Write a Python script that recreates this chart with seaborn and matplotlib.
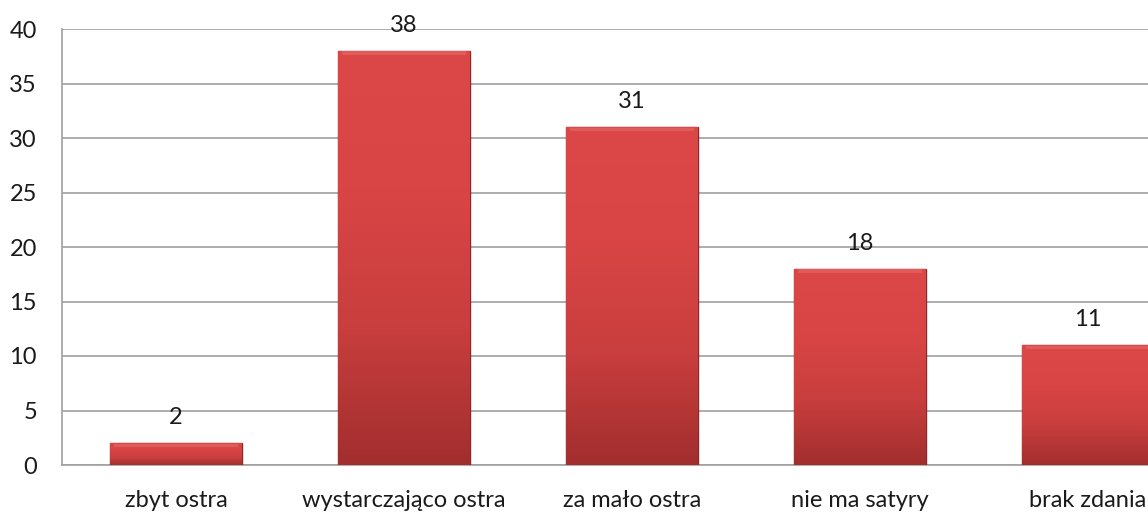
import numpy as np
import pandas as pd
import seaborn as sns
import matplotlib.pyplot as plt
from matplotlib.colors import LinearSegmentedColormap

categories = ['zbyt ostra', 'wystarczająco ostra', 'za mało ostra', 'nie ma satyry', 'brak zdania']
values = [2, 38, 31, 18, 11]

df = pd.DataFrame({'kategoria': categories, 'liczba': values})

sns.set_style('white')
plt.rcParams['font.family'] = ['Lato', 'DejaVu Sans']

fig = plt.figure(figsize=(11.48, 5.19), dpi=100)
# axes run past the right edge, as in the cropped original
ax = fig.add_axes([62 / 1148, 54 / 519, 1140 / 1148, 436 / 519])

sns.barplot(data=df, x='kategoria', y='liczba', color='#c93b3b', width=0.575,
            ax=ax, zorder=3)

ax.set_ylim(0, 40)
ax.set_yticks(range(0, 41, 5))
ax.yaxis.grid(True, color='#a0a0a0', linewidth=1.2, zorder=0)
ax.set_xlabel('')
ax.set_ylabel('')
for side in ['top', 'right']:
    ax.spines[side].set_visible(False)
for side in ['left', 'bottom']:
    ax.spines[side].set_color('#a0a0a0')
    ax.spines[side].set_linewidth(1.2)
ax.tick_params(axis='both', length=0, labelsize=17, colors='#1a1a1a')
ax.tick_params(axis='x', pad=18)
ax.tick_params(axis='y', pad=18)

# vertical red gradient with darker edge, like the original bevelled bars
cmap = LinearSegmentedColormap.from_list('red', ['#a22e2e', '#c93e3e', '#d94545', '#dc4848'])
grad = np.linspace(0, 1, 256).reshape(-1, 1)
for bar in ax.patches:
    x0, y0 = bar.get_x(), bar.get_y()
    w, h = bar.get_width(), bar.get_height()
    im = ax.imshow(grad, cmap=cmap, aspect='auto', origin='lower',
                   extent=[x0, x0 + w, y0, y0 + h], zorder=3.5)
    im.set_clip_path(bar)
    bar.set_edgecolor('#8e2626')
    bar.set_linewidth(1.0)
    # light bevel at the top
    ax.fill_between([x0 + w * 0.03, x0 + w * 0.97], y0 + h - 0.35, y0 + h - 0.05,
                    color='#e86a6a', alpha=0.6, zorder=4, linewidth=0)

ax.set_xlim(-0.5, 4.5)
ax.set_ylim(0, 40)

for bar, v in zip(ax.patches, values):
    ax.annotate(str(v), (bar.get_x() + bar.get_width() / 2, bar.get_height()),
                xytext=(0, 11), textcoords='offset points', ha='center', va='bottom',
                fontsize=17, color='#1a1a1a', annotation_clip=False)

fig.savefig('out.png', dpi=100)
